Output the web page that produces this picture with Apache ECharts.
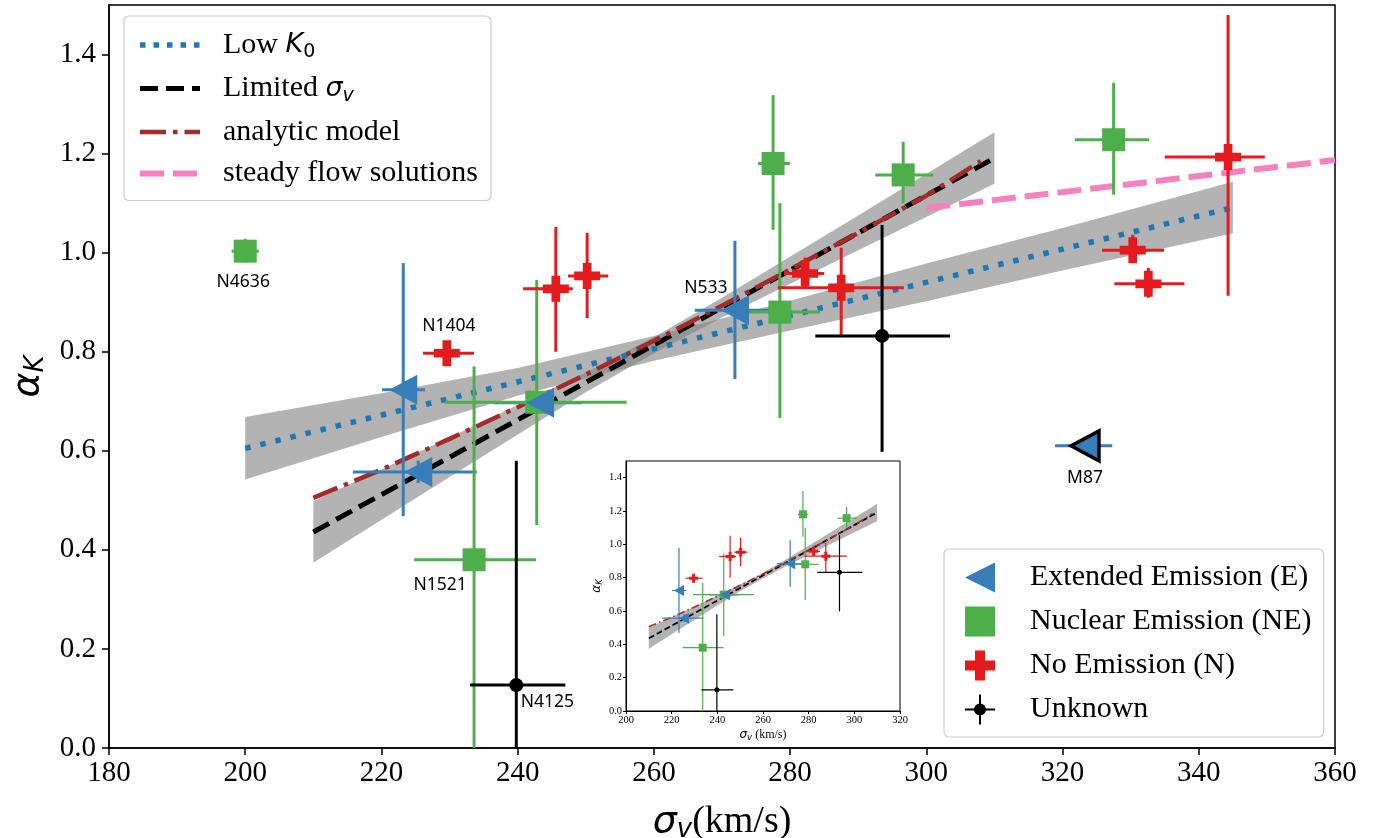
<!DOCTYPE html>
<html>
<head>
<meta charset="utf-8">
<script src="https://cdn.jsdelivr.net/npm/echarts@6/dist/echarts.min.js"></script>
<style>html,body{margin:0;padding:0;background:#fff}#c{width:1377px;height:838px}</style>
</head>
<body>
<div id="c"></div>
<script>
// ---------------- DATA ----------------
const xTicks = [180, 200, 220, 240, 260, 280, 300, 320, 340, 360];
const yTicks = [0.0, 0.2, 0.4, 0.6, 0.8, 1.0, 1.2, 1.4];

const categories = ['Extended Emission (E)', 'Nuclear Emission (NE)', 'No Emission (N)', 'Unknown'];

// Extended Emission (E)
const extX   = [223.2, 225.4, 243.3, 271.9, 323.3];
const extY   = [0.723, 0.557, 0.697, 0.884, 0.610];
const extXLo = [220.1, 215.8, 236.4, 266.0, 318.9];
const extXHi = [226.4, 234.0, 249.4, 278.0, 327.3];
const extYLo = [0.468, 0.535, 0.680, 0.745, 0.600];
const extYHi = [0.979, 0.580, 0.715, 1.024, 0.620];
const extNames = ['', '', '', 'N533', 'M87'];

// Nuclear Emission (NE)
const nucX   = [200.0, 233.6, 242.8, 277.5, 278.5, 296.6, 327.5];
const nucY   = [1.003, 0.380, 0.698, 1.180, 0.880, 1.157, 1.228];
const nucXLo = [198.0, 224.8, 229.3, 275.3, 272.6, 292.5, 321.8];
const nucXHi = [202.0, 242.7, 256.0, 280.0, 284.4, 301.0, 332.7];
const nucYLo = [0.980, -0.10, 0.450, 1.046, 0.666, 1.100, 1.117];
const nucYHi = [1.028, 0.770, 0.945, 1.318, 1.100, 1.224, 1.343];
const nucNames = ['N4636', 'N1521', '', '', '', '', ''];

// No Emission (N)
const noX   = [229.6, 245.6, 250.2, 282.2, 287.5, 330.3, 332.6, 344.3];
const noY   = [0.797, 0.927, 0.953, 0.958, 0.929, 1.005, 0.937, 1.193];
const noXLo = [226.1, 240.8, 247.4, 279.1, 278.2, 325.8, 327.6, 335.0];
const noXHi = [233.6, 248.1, 253.3, 285.0, 296.7, 334.9, 337.9, 349.7];
const noYLo = [0.780, 0.800, 0.868, 0.930, 0.834, 0.980, 0.909, 0.913];
const noYHi = [0.815, 1.052, 1.040, 0.990, 1.010, 1.036, 0.969, 1.480];
const noNames = ['N1404', '', '', '', '', '', '', ''];

// Unknown
const unkX   = [239.8, 293.5];
const unkY   = [0.127, 0.832];
const unkXLo = [233.0, 283.7];
const unkXHi = [247.0, 303.5];
const unkYLo = [-0.10, 0.598];
const unkYHi = [0.580, 1.056];
const unkNames = ['N4125', ''];

// Model lines
const lowK0X = [200, 345];
const lowK0Y = [0.605, 1.091];
const lowK0BandX = [200, 220, 240, 260, 280, 300, 320, 345];
const lowK0BandUp = [0.668, 0.716, 0.767, 0.832, 0.903, 0.978, 1.050, 1.143];
const lowK0BandLo = [0.542, 0.628, 0.711, 0.782, 0.843, 0.902, 0.964, 1.039];

const limX = [210, 310];
const limY = [0.436, 1.191];
const limBandX = [210, 230, 250, 260, 270, 290, 310];
const limBandUp = [0.498, 0.627, 0.758, 0.829, 0.909, 1.075, 1.243];
const limBandLo = [0.374, 0.547, 0.718, 0.797, 0.869, 1.005, 1.139];

const anaX = [210, 220, 230, 240, 250, 260, 270, 280, 290, 300, 308];
const anaY = [0.505, 0.562, 0.624, 0.688, 0.754, 0.822, 0.893, 0.966, 1.040, 1.115, 1.185];

const steadyX = [300, 360];
const steadyY = [1.090, 1.187];

// ---------------- STYLES ----------------
const SERIF = 'Liberation Serif';
const MATH = 'DejaVu Sans';
const C = { ext: '#377eb8', nuc: '#4daf4a', no: '#e41a1c', unk: '#000000' };
const PLUS = 'path://M1,0H2V1H3V2H2V3H1V2H0V1H1Z';
const labelOffsets = { N4636: [-2, 31], N1404: [2, -27], N533: [-29, -22], N1521: [-34, 25], N4125: [31, 17], M87: [0, 32] };

function rows(xs, ys, xl, xh, yl, yh) {
  return xs.map((x, i) => [x, ys[i], xl[i], xh[i], yl[i], yh[i]]);
}
const groups = [
  { name: categories[0], color: C.ext, rows: rows(extX, extY, extXLo, extXHi, extYLo, extYHi), names: extNames,
    symbol: 'triangle', rot: 90, size: [30, 28], isize: [11, 10], z: 7 },
  { name: categories[1], color: C.nuc, rows: rows(nucX, nucY, nucXLo, nucXHi, nucYLo, nucYHi), names: nucNames,
    symbol: 'rect', rot: 0, size: 23, isize: 8, z: 4 },
  { name: categories[2], color: C.no, rows: rows(noX, noY, noXLo, noXHi, noYLo, noYHi), names: noNames,
    symbol: PLUS, rot: 0, size: 26, isize: 9, z: 5 },
  { name: categories[3], color: C.unk, rows: rows(unkX, unkY, unkXLo, unkXHi, unkYLo, unkYHi), names: unkNames,
    symbol: 'circle', rot: 0, size: 14, isize: 5, z: 6 }
];

function errRender(color, lw) {
  return function (params, api) {
    const x = api.value(0), y = api.value(1);
    const a = api.coord([api.value(2), y]), b = api.coord([api.value(3), y]);
    const c = api.coord([x, api.value(4)]), d = api.coord([x, api.value(5)]);
    return { type: 'group', children: [
      { type: 'line', shape: { x1: a[0], y1: a[1], x2: b[0], y2: b[1] }, style: { stroke: color, lineWidth: lw } },
      { type: 'line', shape: { x1: c[0], y1: c[1], x2: d[0], y2: d[1] }, style: { stroke: color, lineWidth: lw } }
    ]};
  };
}
function bandSeries(bx, up, lo, axis) {
  return {
    type: 'custom', xAxisIndex: axis, yAxisIndex: axis, silent: true, clip: true, z: 1,
    data: [[bx[0], up[0]]],
    renderItem: function (params, api) {
      const pts = [];
      for (let i = 0; i < bx.length; i++) pts.push(api.coord([bx[i], up[i]]));
      for (let i = bx.length - 1; i >= 0; i--) pts.push(api.coord([bx[i], lo[i]]));
      return { type: 'polygon', shape: { points: pts }, style: { fill: 'rgba(128,128,128,0.6)' } };
    }
  };
}
function lineSeries(name, xs, ys, style, axis) {
  const s = {
    type: 'line', xAxisIndex: axis, yAxisIndex: axis, showSymbol: false, symbol: 'none', silent: true,
    data: xs.map((x, i) => [x, ys[i]]), lineStyle: style, itemStyle: { color: style.color }, z: 2, clip: true
  };
  if (name) s.name = name;
  return s;
}

const series = [];
series.push(bandSeries(lowK0BandX, lowK0BandUp, lowK0BandLo, 0));
series.push(bandSeries(limBandX, limBandUp, limBandLo, 0));
const lowStyle = { color: '#1f77b4', width: 5.5, type: [5.5, 10], cap: 'butt' };
const limStyle = { color: '#000000', width: 5, type: [18, 8], cap: 'butt' };
const anaStyle = { color: '#a52a2a', width: 4.5, type: [26, 7, 4.5, 7], cap: 'butt' };
const stdStyle = { color: '#f781bf', width: 6, type: [24, 9], cap: 'butt' };
series.push(lineSeries('Low K0', lowK0X, lowK0Y, lowStyle, 0));
series.push(lineSeries('Limited σv', limX, limY, limStyle, 0));
series.push(lineSeries('analytic model', anaX, anaY, anaStyle, 0));
series.push(lineSeries('steady flow solutions', steadyX, steadyY, stdStyle, 0));

groups.forEach(g => {
  series.push({ type: 'custom', xAxisIndex: 0, yAxisIndex: 0, silent: true, clip: true, z: 3,
    data: g.rows, renderItem: errRender(g.color, 3), encode: { x: 0, y: 1 } });
});
groups.forEach(g => {
  series.push({ name: g.name, type: 'scatter', xAxisIndex: 0, yAxisIndex: 0, silent: true, z: g.z,
    symbol: g.symbol, symbolRotate: g.rot, symbolSize: g.size,
    itemStyle: { color: g.color, opacity: 1 },
    data: g.rows.map((r, i) => {
      const d = { value: [r[0], r[1]] };
      if (g.names[i] === 'M87') d.itemStyle = { borderColor: '#000', borderWidth: 3.5 };
      return d;
    })
  });
});
// annotations (names attached to the data points)
const ann = [];
groups.forEach(g => g.rows.forEach((r, i) => { if (g.names[i]) ann.push({ name: g.names[i], value: [r[0], r[1]] }); }));
series.push({ type: 'custom', xAxisIndex: 0, yAxisIndex: 0, silent: true, z: 8,
  data: ann.map(a => [a.value[0], a.value[1]]),
  encode: { x: 0, y: 1 },
  renderItem: function (params, api) {
    const p = api.coord([api.value(0), api.value(1)]);
    const nm = ann[params.dataIndex].name;
    const off = labelOffsets[nm];
    return { type: 'text', x: p[0] + off[0], y: p[1] + off[1],
      style: { text: nm, fill: '#000', font: '17.5px "Noto Sans"', align: 'center', verticalAlign: 'middle' } };
  }
});

// inset
series.push(bandSeries(limBandX, limBandUp, limBandLo, 1));
series.push(lineSeries(null, limX, limY, { color: '#000', width: 1.8, type: [6, 3], cap: 'butt' }, 1));
series.push(lineSeries(null, anaX, anaY, { color: '#a52a2a', width: 1.6, type: [8, 3, 1.5, 3], cap: 'butt' }, 1));
groups.forEach(g => {
  const rr = g.rows.filter(r => r[0] > 205 && r[0] < 318);
  series.push({ type: 'custom', xAxisIndex: 1, yAxisIndex: 1, silent: true, clip: true, z: 3,
    data: rr, renderItem: errRender(g.color, 1.2), encode: { x: 0, y: 1 } });
  series.push({ type: 'scatter', xAxisIndex: 1, yAxisIndex: 1, silent: true, z: g.z,
    symbol: g.symbol, symbolRotate: g.rot, symbolSize: g.isize,
    itemStyle: { color: g.color, opacity: 1 }, data: rr.map(r => [r[0], r[1]]) });
});

const subRich = {
  t: { fontFamily: SERIF, fontSize: 30, lineHeight: 34, color: '#000' },
  m: { fontFamily: MATH, fontStyle: 'italic', fontSize: 27, lineHeight: 34, color: '#000' },
  s: { fontFamily: MATH, fontSize: 19, lineHeight: 18, verticalAlign: 'bottom', color: '#000' },
  si: { fontFamily: MATH, fontStyle: 'italic', fontSize: 19, lineHeight: 18, verticalAlign: 'bottom', color: '#000' }
};
const legendText = {
  'Low K0': '{t|Low }{m|K}{s|0}',
  'Limited σv': '{t|Limited }{m|σ}{si|v}',
  'analytic model': '{t|analytic model}',
  'steady flow solutions': '{t|steady flow solutions}'
};
const noSym = { color: 'rgba(0,0,0,0)', borderColor: 'rgba(0,0,0,0)', borderWidth: 0, opacity: 0 };

const axisCommon = {
  axisLine: { show: true, onZero: false, lineStyle: { color: '#000', width: 1.5 } },
  axisTick: { show: true, inside: false, length: 7, lineStyle: { color: '#000', width: 1.5 } },
  splitLine: { show: false }
};

const option = {
  animation: false,
  backgroundColor: '#fff',
  grid: [
    { left: 109, right: 42, top: 5, bottom: 90, show: true, borderColor: '#000', borderWidth: 1.5,
      backgroundColor: 'transparent', outerBoundsMode: 'none', containLabel: false },
    { left: 626, top: 461, width: 274, height: 250, show: true, borderColor: '#000', borderWidth: 1,
      backgroundColor: '#fff', outerBoundsMode: 'none', containLabel: false }
  ],
  xAxis: [
    Object.assign({}, axisCommon, {
      type: 'value', gridIndex: 0, min: 180, max: 360, interval: 20,
      axisLabel: { fontFamily: SERIF, fontSize: 29, color: '#000', margin: 11, customValues: xTicks },
      axisTick: Object.assign({}, axisCommon.axisTick, { customValues: xTicks }),
      name: '{m|σ}{s|v}{t|(km/s)}', nameLocation: 'middle', nameGap: 53,
      nameTextStyle: { rich: {
        m: { fontFamily: MATH, fontStyle: 'italic', fontSize: 38, lineHeight: 42, color: '#000' },
        s: { fontFamily: MATH, fontStyle: 'italic', fontSize: 26, lineHeight: 24, verticalAlign: 'bottom', color: '#000' },
        t: { fontFamily: SERIF, fontSize: 38, lineHeight: 42, color: '#000' } } }
    }),
    {
      type: 'value', gridIndex: 1, min: 200, max: 320, interval: 20,
      axisLine: { show: true, onZero: false, lineStyle: { color: '#000', width: 1 } },
      axisTick: { show: true, length: 3, lineStyle: { color: '#000', width: 1 } },
      splitLine: { show: false },
      axisLabel: { fontFamily: SERIF, fontSize: 10.5, color: '#000', margin: 4 },
      name: '{m|σ}{s|v}{t| (km/s)}', nameLocation: 'middle', nameGap: 17,
      nameTextStyle: { rich: {
        m: { fontFamily: MATH, fontStyle: 'italic', fontSize: 12, lineHeight: 14, color: '#000' },
        s: { fontFamily: MATH, fontStyle: 'italic', fontSize: 8.5, lineHeight: 8, verticalAlign: 'bottom', color: '#000' },
        t: { fontFamily: SERIF, fontSize: 12, lineHeight: 14, color: '#000' } } }
    }
  ],
  yAxis: [
    Object.assign({}, axisCommon, {
      type: 'value', gridIndex: 0, min: 0, max: 1.5, interval: 0.1,
      axisLabel: { fontFamily: SERIF, fontSize: 29, color: '#000', margin: 13, customValues: yTicks,
        formatter: v => v.toFixed(1) },
      axisTick: Object.assign({}, axisCommon.axisTick, { customValues: yTicks }),
      name: '{m|α}{s|K}', nameLocation: 'middle', nameGap: 60, nameRotate: 90,
      nameTextStyle: { rich: {
        m: { fontFamily: MATH, fontStyle: 'italic', fontSize: 38, lineHeight: 42, color: '#000' },
        s: { fontFamily: MATH, fontStyle: 'italic', fontSize: 26, lineHeight: 24, verticalAlign: 'bottom', color: '#000' } } }
    }),
    {
      type: 'value', gridIndex: 1, min: 0, max: 1.5, interval: 0.1,
      axisLine: { show: true, onZero: false, lineStyle: { color: '#000', width: 1 } },
      axisTick: { show: true, length: 3, lineStyle: { color: '#000', width: 1 }, customValues: yTicks },
      splitLine: { show: false },
      axisLabel: { fontFamily: SERIF, fontSize: 10.5, color: '#000', margin: 4, customValues: yTicks,
        formatter: v => v.toFixed(1) },
      name: '{m|α}{s|K}', nameLocation: 'middle', nameGap: 22, nameRotate: 90,
      nameTextStyle: { rich: {
        m: { fontFamily: MATH, fontStyle: 'italic', fontSize: 12, lineHeight: 14, color: '#000' },
        s: { fontFamily: MATH, fontStyle: 'italic', fontSize: 8.5, lineHeight: 8, verticalAlign: 'bottom', color: '#000' } } }
    }
  ],
  legend: [
    {
      data: [
        { name: 'Low K0', itemStyle: noSym, lineStyle: { color: '#1f77b4', width: 5.5, type: [5.5, 8], cap: 'butt' } },
        { name: 'Limited σv', itemStyle: noSym, lineStyle: { color: '#000', width: 5, type: [18, 8], cap: 'butt' } },
        { name: 'analytic model', itemStyle: noSym, lineStyle: { color: '#a52a2a', width: 4.5, type: [26, 7, 4.5, 7], cap: 'butt' } },
        { name: 'steady flow solutions', itemStyle: noSym, lineStyle: { color: '#f781bf', width: 6, type: [24, 9], cap: 'butt' } }
      ],
      orient: 'vertical', left: 124, top: 16, itemWidth: 60, itemHeight: 14, itemGap: 11.5,
      padding: [14, 13, 12, 13], backgroundColor: '#fff', borderColor: '#cccccc', borderWidth: 1.2, borderRadius: 5,
      selectedMode: false,
      itemStyle: noSym,
      formatter: n => legendText[n] || n,
      textStyle: { fontFamily: SERIF, fontSize: 30, color: '#000', padding: [0, 0, 0, 18], rich: subRich }
    },
    {
      data: [
        { name: categories[0], icon: 'path://M0,15L28,1L28,29Z' },
        { name: categories[1], icon: 'path://M3,3H27V27H3Z' },
        { name: categories[2], icon: 'path://M10,0H20V10H30V20H20V30H10V20H0V10H10Z' },
        { name: categories[3], icon: 'path://M0,14L30,14L30,16L0,16Z M14,0L16,0L16,30L14,30Z M9,15A6,6 0 1,1 21,15A6,6 0 1,1 9,15Z' }
      ],
      orient: 'vertical', left: 944, top: 549, itemWidth: 30, itemHeight: 30, itemGap: 11,
      padding: [12, 12, 11, 21], backgroundColor: '#fff', borderColor: '#cccccc', borderWidth: 1.2, borderRadius: 5,
      selectedMode: false,
      textStyle: { fontFamily: SERIF, fontSize: 30, color: '#000', padding: [0, 0, 0, 30], lineHeight: 33 }
    }
  ],
  series: series
};

const chart = echarts.init(document.getElementById('c'), null, { renderer: 'canvas' });
chart.setOption(option);
</script>
</body>
</html>
